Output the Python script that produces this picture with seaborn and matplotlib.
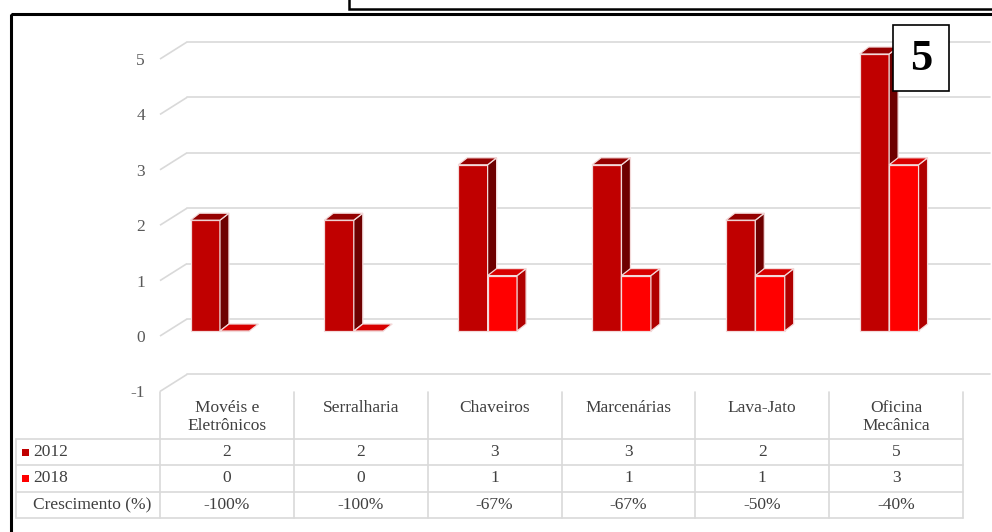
import numpy as np
import pandas as pd
import matplotlib
matplotlib.use("Agg")
import matplotlib.pyplot as plt
import matplotlib.transforms as mtransforms
from matplotlib.patches import Polygon, Rectangle
import seaborn as sns

# ---- data ----
categorias = ["Movéis e\nEletrônicos", "Serralharia", "Chaveiros",
              "Marcenárias", "Lava-Jato", "Oficina\nMecânica"]
anos = ["2012", "2018"]
valores_2012 = [2, 2, 3, 3, 2, 5]
valores_2018 = [0, 0, 1, 1, 1, 3]
crescimento = [-100, -100, -67, -67, -50, -40]
y_ticks = [-1, 0, 1, 2, 3, 4, 5]
rotulo_crescimento = "Crescimento (%)"
numero_quadro = "5"

df = pd.DataFrame({
    "categoria": categorias * 2,
    "ano": [anos[0]] * len(categorias) + [anos[1]] * len(categorias),
    "valor": valores_2012 + valores_2018,
})

# ---- style ----
cores_frente = ["#C00000", "#FF0000"]
cores_lado = ["#6E0000", "#B00000"]
cores_topo = ["#950000", "#D80000"]
cor_borda = "#F3DADA"
cor_grade = "#D9D9D9"
cor_texto = "#404040"
fs = 12.5

W, H = 992, 532
sns.set_theme(style="white")
plt.rcParams["font.family"] = ["Liberation Serif", "DejaVu Serif"]

fig = plt.figure(figsize=(W / 100, H / 100), dpi=100)
fig.patch.set_facecolor("white")


def fx(px):
    return px / W


def fy(py):
    return 1 - py / H


# plot region (pixels)
plot_left, plot_right = 160, 963
plot_top, plot_bottom = 40, 392
base_px = 331          # value 0 on the bar front plane
unit_px = 55.4         # pixels per unit on the value axis

ax = fig.add_axes([fx(plot_left), fy(plot_bottom),
                   (plot_right - plot_left) / W, (plot_bottom - plot_top) / H])
ax.patch.set_alpha(0)
x0, x1 = -0.448, 5.552
ylims = ((base_px - plot_bottom) / unit_px, (base_px - plot_top) / unit_px)

ux = (x1 - x0) / (plot_right - plot_left)   # data units per pixel (x)
uy = 1 / unit_px                            # data units per pixel (y)

# pseudo-3D offsets
bar_dx, bar_dy = 9 * ux, 7 * uy
grid_end = x0 + (990 - plot_left) * ux

# back-wall gridlines and left-wall diagonals
for v in y_ticks:
    ax.plot([x0, x0 + 27 * ux], [v - 5 * uy, v + 12 * uy], color=cor_grade,
            lw=1.2, zorder=0, clip_on=False, solid_capstyle="butt")
    ax.plot([x0 + 27 * ux, grid_end], [v + 12 * uy, v + 12 * uy],
            color=cor_grade, lw=1.2, zorder=0, clip_on=False)

# front faces
sns.barplot(data=df, x="categoria", y="valor", hue="ano", order=categorias,
            hue_order=anos, palette=cores_frente, saturation=1, width=0.44,
            edgecolor=cor_borda, linewidth=0.9, legend=False, ax=ax)
ax.set_xlim(x0, x1)
ax.set_ylim(*ylims)

# side and top faces
for k, cont in enumerate(ax.containers):
    for rect in cont:
        rect.set_zorder(2 + k)
        x, w = rect.get_x(), rect.get_width()
        yb, h = rect.get_y(), rect.get_height()
        yt = yb + h
        if h > 0:
            side = Polygon([(x + w, yb), (x + w + bar_dx, yb + bar_dy),
                            (x + w + bar_dx, yt + bar_dy), (x + w, yt)],
                           closed=True, facecolor=cores_lado[k],
                           edgecolor=cor_borda, lw=0.9, zorder=2 + k)
            ax.add_patch(side)
        top = Polygon([(x, yt), (x + bar_dx, yt + bar_dy),
                       (x + w + bar_dx, yt + bar_dy), (x + w, yt)],
                      closed=True, facecolor=cores_topo[k],
                      edgecolor=cor_borda, lw=0.9, zorder=2 + k)
        ax.add_patch(top)

# value axis labels
ax.set_yticks(y_ticks)
ax.set_yticklabels([str(v) for v in y_ticks], fontsize=fs, color="#595959")
ax.tick_params(axis="y", length=0, pad=15 * 0.72)
shift = mtransforms.ScaledTranslation(0, -5 / 100, fig.dpi_scale_trans)
for lab in ax.get_yticklabels():
    lab.set_transform(lab.get_transform() + shift)
ax.set_xticks([])
ax.set_xlabel("")
ax.set_ylabel("")
for s in ax.spines.values():
    s.set_visible(False)

# ---- overlay: data table and frames ----
ov = fig.add_axes([0, 0, 1, 1], zorder=5)
ov.set_xlim(0, W)
ov.set_ylim(H, 0)
ov.axis("off")

col_edges = np.linspace(plot_left, plot_right, len(categorias) + 1)
col_centers = (col_edges[:-1] + col_edges[1:]) / 2
row_edges = [439, 465, 492, 518]
tab_left = 16
tab_top = 392

for y in row_edges:
    ov.plot([tab_left, plot_right], [y, y], color=cor_grade, lw=1.2)
ov.plot([tab_left, tab_left], [row_edges[0], row_edges[-1]], color=cor_grade, lw=1.2)
for x in col_edges:
    ov.plot([x, x], [tab_top, row_edges[-1]], color=cor_grade, lw=1.2)

for cx, nome in zip(col_centers, categorias):
    ov.text(cx, 400, nome, ha="center", va="top", fontsize=fs,
            color=cor_texto, linespacing=1.15)

linhas = [valores_2012, valores_2018, [f"{g}%" for g in crescimento]]
for r, vals in enumerate(linhas):
    cy = (row_edges[r] + row_edges[r + 1]) / 2
    for cx, val in zip(col_centers, vals):
        ov.text(cx, cy, str(val), ha="center", va="center", fontsize=fs,
                color=cor_texto)

for r, ano in enumerate(anos):
    cy = (row_edges[r] + row_edges[r + 1]) / 2
    ov.add_patch(Rectangle((22, cy - 3.5), 7, 7, facecolor=cores_frente[r],
                           edgecolor="none"))
    ov.text(33, cy, ano, ha="left", va="center", fontsize=fs, color=cor_texto)
cy = (row_edges[2] + row_edges[3]) / 2
ov.text(33, cy, rotulo_crescimento, ha="left", va="center", fontsize=fs,
        color=cor_texto)

# frames
ov.add_patch(Rectangle((10.5, 13.5), 1200, 700, facecolor="none",
                       edgecolor="black", lw=2.2))
ov.add_patch(Rectangle((349, -20), 1000, 28.5, facecolor="none",
                       edgecolor="black", lw=1.8))

# panel number box
ov.add_patch(Rectangle((893, 25), 56, 66, facecolor="white",
                       edgecolor="black", lw=1.2, zorder=6))
ov.text(921, 59, numero_quadro, ha="center", va="center", fontsize=32,
        fontweight="bold", color="black", zorder=7)

fig.savefig("out.png", dpi=100, facecolor="white")
